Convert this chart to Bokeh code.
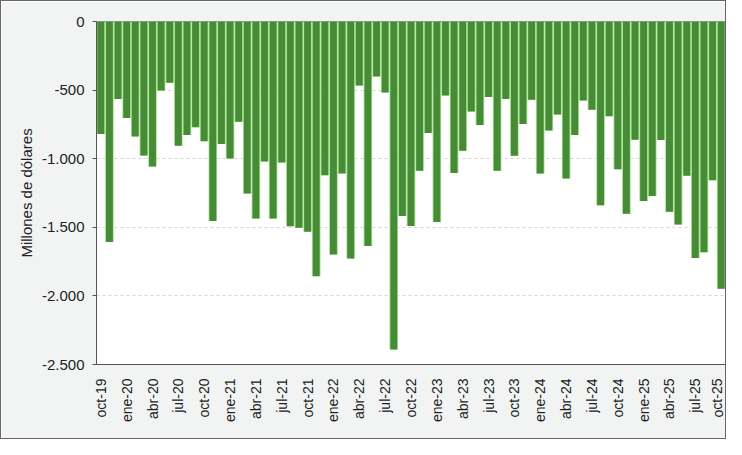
from bokeh.plotting import figure
from bokeh.models import FixedTicker, Range1d, ColumnDataSource
from bokeh.embed import file_html
from bokeh.resources import INLINE

months = ["oct","nov","dic","ene","feb","mar","abr","may","jun","jul","ago","sep"]
years = [19] * 3 + [20] * 12 + [21] * 12 + [22] * 12 + [23] * 12 + [24] * 12 + [25] * 10
periods = []
_m = 0
for y in years:
    periods.append(f"{months[_m % 12]}-{y}")
    _m += 1

values = [
    -820, -1608, -564, -703, -839, -976, -1057, -503, -447, -905, -827, -771,
    -873, -1454, -893, -998, -730, -1254, -1435, -1020, -1435, -1027, -1493, -1503,
    -1532, -1857, -1120, -1698, -1108, -1728, -466, -1637, -400, -517, -2390, -1418,
    -1491, -1088, -812, -1462, -539, -1105, -942, -656, -754, -551, -1088, -564,
    -978, -747, -571, -1108, -795, -678, -1144, -827, -576, -644, -1340, -690,
    -1076, -1401, -861, -1308, -1271, -864, -1386, -1479, -1125, -1723, -1681, -1157, -1947,
]

y_ticks = [0, -500, -1000, -1500, -2000, -2500]
y_tick_labels = ["0", "-500", "-1.000", "-1.500", "-2.000", "-2.500"]

x = list(range(len(values)))
src = ColumnDataSource(dict(x=x, top=[0] * len(values), bottom=values))

p = figure(width=726, height=439, output_backend="svg", toolbar_location=None,
           x_range=Range1d(-0.5, len(values) - 0.5), y_range=Range1d(-2500, 0),
           min_border_left=95, min_border_right=2, min_border_top=20, min_border_bottom=76)
p.background_fill_color = "white"
p.border_fill_color = "#f2f4f4"
p.outline_line_color = "#8a8a8a"
p.styles = {"border": "1px solid #666666", "box-sizing": "border-box"}

p.vbar(x="x", top="top", bottom="bottom", width=1.0, source=src,
       fill_color="#a6e68a", line_color=None)
p.vbar(x="x", top="top", bottom="bottom", width=0.8, source=src,
       fill_color="#478b38", line_color=None)

# y axis
p.yaxis.ticker = FixedTicker(ticks=y_ticks)
p.yaxis.major_label_overrides = {t: l for t, l in zip(y_ticks, y_tick_labels)}
p.yaxis.axis_label = "Millones de dólares"
p.yaxis.axis_label_text_font = "Liberation Sans"
p.yaxis.axis_label_text_font_style = "normal"
p.yaxis.axis_label_text_font_size = "15px"
p.yaxis.axis_label_text_color = "#222222"
p.yaxis.axis_label_standoff = 4
p.yaxis.major_label_text_font = "Liberation Sans"
p.yaxis.major_label_text_font_size = "15px"
p.yaxis.major_label_text_color = "#222222"
p.yaxis.major_label_standoff = 8
p.yaxis.axis_line_color = "#555555"
p.yaxis.major_tick_line_color = "#555555"
p.yaxis.major_tick_out = 4
p.yaxis.major_tick_in = 0
p.yaxis.minor_tick_line_color = None

# x axis
x_ticks = list(range(0, len(values), 3))
p.xaxis.ticker = FixedTicker(ticks=x_ticks)
p.xaxis.major_label_overrides = {i: periods[i] for i in x_ticks}
p.xaxis.major_label_orientation = 1.5708
p.xaxis.major_label_text_font = "Liberation Sans"
p.xaxis.major_label_text_font_size = "14px"
p.xaxis.major_label_text_color = "#222222"
p.xaxis.major_label_standoff = 8
p.xaxis.axis_line_color = "#555555"
p.xaxis.major_tick_line_color = None
p.xaxis.minor_tick_line_color = None

p.xgrid.grid_line_color = None
p.ygrid.grid_line_color = "#d6d6d6"
p.ygrid.grid_line_dash = "3 3"

open("out.html", "w").write(file_html(p, INLINE))
